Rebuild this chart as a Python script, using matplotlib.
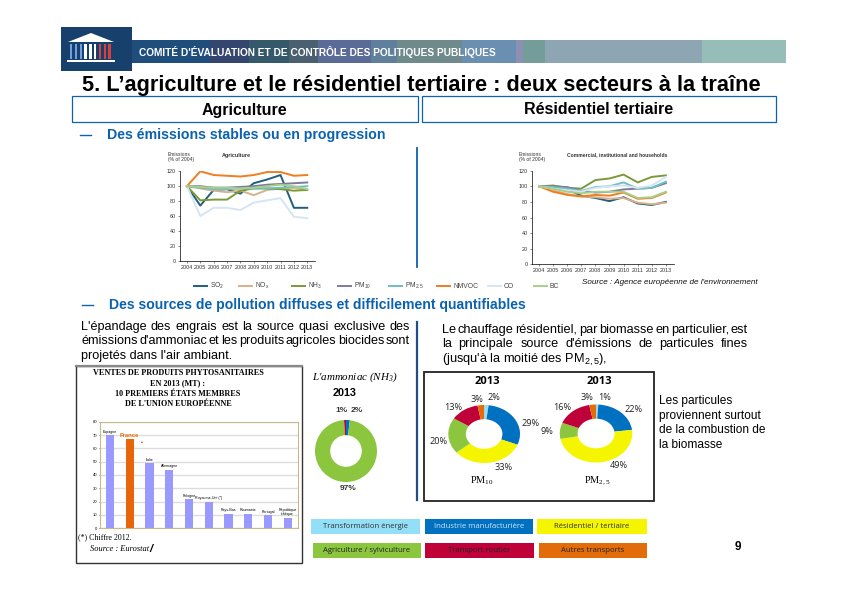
import matplotlib
matplotlib.use('Agg')
import matplotlib.pyplot as plt
from matplotlib.patches import Rectangle, Polygon

plt.rcParams['font.family'] = ['Liberation Sans', 'DejaVu Sans']
plt.rcParams['mathtext.default'] = 'regular'

W, H = 846, 597

# emissions (% of 2004)
years = [2004, 2005, 2006, 2007, 2008, 2009, 2010, 2011, 2012, 2013]
pollutants = ['SO$_2$', 'NO$_x$', 'NH$_3$', 'PM$_{10}$', 'PM$_{2.5}$', 'NMVOC', 'CO', 'BC']

agri_so2 = [100, 74, 95, 96, 90, 104, 109, 115, 71, 71]
agri_nox = [100, 97, 94, 92, 94, 88, 95, 97, 98, 95]
agri_nh3 = [100, 81, 82, 82, 94, 97, 97, 96, 94, 95]
agri_pm10 = [100, 100, 98, 98, 99, 100, 102, 103, 104, 105]
agri_pm25 = [100, 98, 96, 96, 97, 97, 97, 98, 99, 100]
agri_nmvoc = [100, 120, 115, 114, 113, 115, 119, 119, 114, 115]
agri_co = [100, 60, 71, 71, 68, 78, 81, 84, 59, 57]
agri_bc = [100, 99, 98, 98, 97, 98, 100, 102, 100, 96]

resi_so2 = [100, 100, 96, 88, 85, 81, 86, 78, 76, 80]
resi_nox = [100, 95, 90, 87, 86, 84, 85, 79, 77, 79]
resi_nh3 = [100, 101, 98, 97, 108, 110, 115, 105, 112, 114]
resi_pm10 = [100, 100, 99, 94, 92, 93, 96, 97, 98, 104]
resi_pm25 = [100, 99, 97, 94, 99, 100, 105, 97, 98, 106]
resi_nmvoc = [100, 93, 89, 87, 89, 88, 92, 84, 85, 92]
resi_co = [100, 97, 95, 93, 98, 100, 101, 98, 101, 112]
resi_bc = [100, 97, 93, 91, 93, 93, 93, 85, 86, 93]

# phyto sales
countries = ['Espagne', 'France', 'Italie', 'Allemagne', 'Pologne', 'Royaume-Uni (*)',
             'Pays-Bas', 'Roumanie', 'Portugal', 'République\ntchèque']
sales = [70, 67, 49, 44, 22, 20, 11, 11, 10, 8]

# donuts, same sector order everywhere
sectors = ['Transformation énergie', 'Industrie manufacturière', 'Résidentiel / tertiaire',
           'Agriculture / sylviculture', 'Transport routier', 'Autres transports']
nh3_share = [0, 2, 0, 97, 1, 0]
pm10_share = [2, 29, 33, 20, 13, 3]
pm25_share = [1, 22, 49, 9, 16, 3]

line_colors = ['#1f5f7a', '#d9b08c', '#7a9a3a', '#7d7a9e', '#6fc0c0', '#f07d20', '#d5e5f2', '#a8cf8a']
sector_colors = ['#93dff7', '#0070c0', '#f5f500', '#8cc63f', '#c00038', '#e36c0a']
BLUE = '#0b62b0'

fig = plt.figure(figsize=(W / 100, H / 100), dpi=100, facecolor='white')


# axes from a pixel box (top left origin)
def px_axes(x0, y0, x1, y1):
    return fig.add_axes([x0 / W, 1 - y1 / H, (x1 - x0) / W, (y1 - y0) / H])


# whole slide in pixel coordinates, for the text and boxes
slide = fig.add_axes([0, 0, 1, 1], zorder=5)
slide.set_xlim(0, W)
slide.set_ylim(H, 0)
slide.axis('off')


def txt(x, y, s, size, **kw):
    kw.setdefault('va', 'center')
    return slide.text(x, y, s, fontsize=size, **kw)


# word by word so the line fills x0..x1, like the justified paragraph on the slide
def justified(x0, x1, y, s, size, **kw):
    words = s.split(' ')
    rend = fig.canvas.get_renderer()
    items = [txt(x0, y, w, size, va='baseline', **kw) for w in words]
    widths = [t.get_window_extent(rend).width for t in items]
    gap = (x1 - x0 - sum(widths)) / (len(words) - 1)
    x = x0
    for t, w in zip(items, widths):
        t.set_x(x)
        x += w + gap


# header band
band_edges = [132, 210, 249, 289, 318, 371, 397, 462, 516, 523, 545, 702, 786]
band_colors = ['#1f4e7d', '#35466e', '#35596b', '#4a6070', '#5a6b98', '#5f7f9c',
               '#6f8a8a', '#6b8fb0', '#8d8fb3', '#749c98', '#8ea5b4', '#96bdb8']
for i, c in enumerate(band_colors):
    slide.add_patch(Rectangle((band_edges[i], 40), band_edges[i + 1] - band_edges[i], 23, fc=c, ec='none'))
txt(139, 51.5, "COMITÉ D'ÉVALUATION ET DE CONTRÔLE DES POLITIQUES PUBLIQUES", 7.3, color='white', weight='bold')

# logo
slide.add_patch(Rectangle((60.5, 27), 71.5, 44, fc='#17406d', ec='none'))
slide.add_patch(Polygon([(68, 42), (91, 33), (114, 42)], fc='white', ec='none'))
slide.add_patch(Rectangle((67, 59.5), 48, 2.5, fc='white', ec='none'))
for i in range(9):
    col = ['#6f9fe0', '#6f9fe0', '#6f9fe0', 'white', 'white', 'white', '#d84040', '#d84040', '#d84040'][i]
    slide.add_patch(Rectangle((70 + i * 4.8, 43.5), 2.4, 15, fc=col, ec='none'))

txt(82, 85, '5. L’agriculture et le résidentiel tertiaire : deux secteurs à la traîne', 15.65, weight='bold')

for x0, x1, label in [(71.5, 417.5, 'Agriculture'), (422, 776, 'Résidentiel tertiaire')]:
    slide.add_patch(Rectangle((x0, 96), x1 - x0, 26, fc='none', ec=BLUE, lw=0.9))
    txt((x0 + x1) / 2, 114.5, label, 11.5, ha='center', va='baseline', weight='bold')

slide.plot([80, 91], [135, 135], color=BLUE, lw=1)
txt(107, 135, 'Des émissions stables ou en progression', 10.15, color=BLUE, weight='bold')
slide.plot([82, 93], [305, 305], color=BLUE, lw=1)
txt(109, 305, 'Des sources de pollution diffuses et difficilement quantifiables', 10.1, color=BLUE, weight='bold')

slide.plot([417, 417], [148, 267], color=BLUE, lw=1.3)
slide.plot([417, 417], [322, 500], color='#1f4e8c', lw=1.6)


def line_chart(box, series):
    ax = px_axes(*box)
    for vals, c in zip(series, line_colors):
        ax.plot(years, vals, color=c, lw=1.4)
    ax.set_ylim(0, 120)
    ax.set_xlim(2003.48, 2013.58)
    ax.set_yticks(range(0, 121, 20))
    ax.set_xticks(years)
    ax.tick_params(labelsize=3.9, length=1.5, width=0.4, pad=1.5, colors='#333333')
    ax.spines[['top', 'right']].set_visible(False)
    ax.spines[['left', 'bottom']].set_linewidth(0.5)
    ax.patch.set_alpha(0)
    return ax


line_chart((180, 171.3, 315, 260.7),
           [agri_so2, agri_nox, agri_nh3, agri_pm10, agri_pm25, agri_nmvoc, agri_co, agri_bc])
line_chart((531.7, 170.7, 674, 264.3),
           [resi_so2, resi_nox, resi_nh3, resi_pm10, resi_pm25, resi_nmvoc, resi_co, resi_bc])

txt(168, 157.5, 'Emissions\n(% of 2004)', 3.6, color='#333333', linespacing=1.0)
txt(236, 155, 'Agriculture', 3.9, ha='center', weight='bold', color='#333333')
txt(519, 157.5, 'Emissions\n(% of 2004)', 3.6, color='#333333', linespacing=1.0)
txt(567, 155, 'Commercial, institutional and households', 3.65, weight='bold', color='#333333')

# legend of the two line charts
key_x = [194, 239, 292, 338, 389, 437, 488, 534]
for x, name, c in zip(key_x, pollutants, line_colors):
    slide.plot([x, x + 13], [286, 286], color=c, lw=1.4)
    txt(x + 16, 286, name, 4.9, color='#444444')

txt(582, 283, "Source : Agence européenne de l'environnement", 5.9, style='italic', color='#111111')

# paragraphs
justified(81, 410, 330, "L'épandage des engrais est la source quasi exclusive des", 9.1)
justified(81, 410, 344, "émissions d'ammoniac et les produits agricoles biocides sont", 9.1)
txt(81, 359, "projetés dans l'air ambiant.", 9.1, va='baseline')
justified(442, 748, 333, 'Le chauffage résidentiel, par biomasse en particulier, est', 9.2)
justified(442, 748, 347, "la principale source d'émissions de particules fines", 9.2)
txt(442, 363, "(jusqu'à la moitié des PM$_{2,5}$),", 9.2, va='baseline')

for i, s in enumerate(['Les particules', 'proviennent surtout', 'de la combustion de', 'la biomasse']):
    txt(659, 401 + i * 14.7, s, 8.6)

# bar chart
slide.add_patch(Rectangle((75.5, 366), 226.5, 197, fc='none', ec='#333333', lw=1))
slide.plot([75.5, 302], [366, 366], color='#888888', lw=1.6)
serif = 'Liberation Serif'
for y, s in zip([373, 383.5, 394, 404], ['VENTES DE PRODUITS PHYTOSANITAIRES', 'EN 2013 (MT) :',
                                         '10 PREMIERS ÉTATS MEMBRES', "DE L'UNION EUROPÉENNE"]):
    txt(178, y, s, 5.9, ha='center', family=serif, weight='bold')

ax = px_axes(100, 421.7, 297.7, 528.3)
bar_colors = ['#9999ff'] * len(sales)
bar_colors[countries.index('France')] = '#e8650a'
ax.bar(range(len(sales)), sales, width=0.42, color=bar_colors, zorder=3)
ax.set_xlim(-0.5, 9.5)
ax.set_ylim(0, 80)
ax.set_yticks(range(0, 81, 10))
ax.set_xticks([])
ax.grid(axis='y', color='#dddddd', lw=1)
ax.set_axisbelow(True)
ax.tick_params(labelsize=3, length=1, width=0.4, pad=1)
for s in ax.spines.values():
    s.set_color('#c8b98a')
    s.set_linewidth(0.8)
for i, (name, v) in enumerate(zip(countries, sales)):
    if name == 'France':
        ax.text(i, v + 1, name, ha='center', va='bottom', fontsize=4.2, color='#e8650a', weight='bold')
    else:
        ax.text(i, v + 1, name, ha='center', va='bottom', fontsize=2.6, linespacing=1.0)
txt(141.7, 442.7, '•', 3.5, ha='center', color='#c00000')
txt(78, 537, '(*) Chiffre 2012.', 5.7, family=serif)
txt(90, 549, 'Source : Eurostat', 6, family=serif, style='italic')
txt(149.5, 549, '/', 8, style='italic', weight='bold')


def donut(box, shares):
    ax = px_axes(*box)
    ax.pie(shares, colors=sector_colors, startangle=90, counterclock=False, radius=1,
           wedgeprops={'width': 0.49})
    ax.set_aspect('auto')
    ax.set_xlim(-1, 1)
    ax.set_ylim(-1, 1)


# ammonia donut
txt(355, 377, "L'ammoniac (NH$_3$)", 7.9, ha='center', family=serif, style='italic')
txt(345, 393, '2013', 7.8, ha='center', weight='bold')
donut((315, 420, 377, 482), nh3_share)
donut_pos = [(None, None), (357, 411), (None, None), (348, 489), (342, 411), (None, None)]
for (x, y), v in zip(donut_pos, nh3_share):
    if v:
        txt(x, y, f'{v}%', 6, ha='center', weight='bold', color='#333333')

# PM donuts
slide.add_patch(Rectangle((424, 372), 230, 129, fc='none', ec='#222222', lw=1.3))
txt(487, 381, '2013', 8, ha='center', weight='bold', family='Open Sans')
txt(599, 381, '2013', 8, ha='center', weight='bold', family='Open Sans')
donut((448.3, 405, 520, 463), pm10_share)
donut((559.8, 404.5, 632.3, 462.5), pm25_share)
pm10_pos = [(494, 398), (531, 423), (504, 467), (439, 441), (453, 408), (477, 399)]
pm25_pos = [(605, 398), (634, 410), (619, 466), (547, 432), (562, 408), (587, 398)]
for pos, shares in [(pm10_pos, pm10_share), (pm25_pos, pm25_share)]:
    for (x, y), v in zip(pos, shares):
        txt(x, y, f'{v}%', 6.6, ha='center', color='#222222', family='Open Sans')
txt(482, 481, 'PM$_{10}$', 7.4, ha='center', family=serif)
txt(598, 481, 'PM$_{2,5}$', 7.4, ha='center', family=serif)

# sector legend
sector_boxes = [(311, 519, 420, 534), (425, 519, 533, 534), (537, 519, 647, 534),
                (313, 543, 421, 558), (425, 543, 534, 558), (539, 543, 647, 558)]
sector_text = ['#333333', '#cfe6f7', '#333333', '#222222', '#222222', '#222222']
for (x0, y0, x1, y1), name, c, tc in zip(sector_boxes, sectors, sector_colors, sector_text):
    slide.add_patch(Rectangle((x0, y0), x1 - x0, y1 - y0, fc=c, ec='none'))
    txt((x0 + x1) / 2, (y0 + y1) / 2, name, 5.6, ha='center', color=tc, family='Open Sans')

txt(738, 547, '9', 8.5, ha='center', weight='bold')

fig.savefig('out.png', dpi=100)
